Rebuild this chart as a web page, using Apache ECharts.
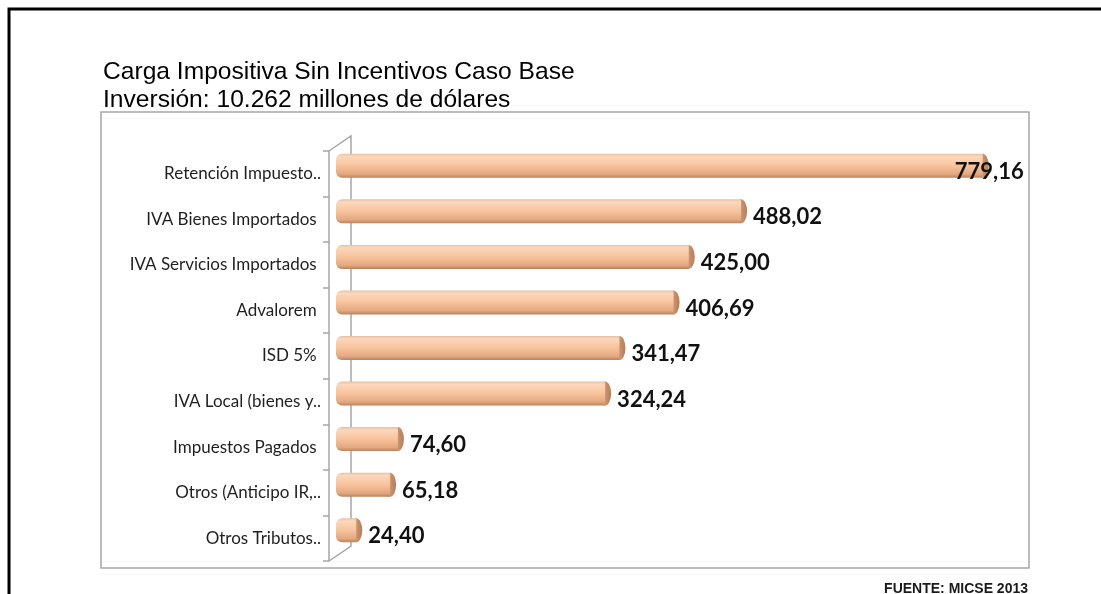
<!DOCTYPE html>
<html>
<head>
<meta charset="utf-8">
<script src="https://cdn.jsdelivr.net/npm/echarts@6/dist/echarts.min.js"></script>
<style>
  html, body { margin: 0; padding: 0; background: #fff; }
  #chart { width: 1101px; height: 594px; }
</style>
</head>
<body>
<div id="chart"></div>
<script>
// data
const categories = [
    'Retención Impuesto..',
    'IVA Bienes Importados ',
    'IVA Servicios Importados ',
    'Advalorem ',
    'ISD 5% ',
    'IVA Local (bienes y..',
    'Impuestos Pagados ',
    'Otros (Anticipo IR,..',
    'Otros Tributos..'
];
const values = [779.16, 488.02, 425.00, 406.69, 341.47, 324.24, 74.60, 65.18, 24.40];
const titleLines = ['Carga Impositiva Sin Incentivos Caso Base', 'Inversión: 10.262 millones de dólares'];
const sourceText = 'FUENTE: MICSE 2013';

const chart = echarts.init(document.getElementById('chart'));

// front plane (labels) and back plane (bars) of the fake 3D axis
const front = { left: 329, top: 151, height: 410 };
const back = { left: 336, top: 143, height: 410 };
const plotRight = 101;
const depth = { dx: 22, dy: -15 };

const barColor = new echarts.graphic.LinearGradient(0, 0, 0, 1, [
    { offset: 0, color: '#e6c0a6' },
    { offset: 0.12, color: '#fbd8bc' },
    { offset: 0.5, color: '#f7c39c' },
    { offset: 0.85, color: '#e3a87f' },
    { offset: 1, color: '#b8835f' }
]);
const capColor = new echarts.graphic.LinearGradient(0, 0, 1, 0, [
    { offset: 0, color: '#dfaa84' },
    { offset: 1, color: '#b47e5b' }
]);

// the longest bar's label sits over the end of the bar
const barData = values.map((v, i) => {
    if (i === 0) {
        return { value: v, label: { offset: [-40, 6] } };
    }
    return v;
});

let option = {
    animation: false,
    title: [
        {
            text: titleLines.join('\n'),
            left: 103,
            top: 58,
            padding: 0,
            textStyle: {
                fontFamily: 'Liberation Sans',
                fontSize: 24.6,
                fontWeight: 'normal',
                color: '#000',
                lineHeight: 28
            }
        },
        {
            text: sourceText,
            right: 73,
            top: 582,
            padding: 0,
            textStyle: {
                fontFamily: 'Liberation Sans',
                fontSize: 14,
                fontWeight: 'bold',
                color: '#1a1a1a'
            }
        }
    ],
    grid: [
        { left: front.left, top: front.top, height: front.height, right: plotRight + 7 },
        { left: back.left, top: back.top, height: back.height, right: plotRight }
    ],
    xAxis: [
        { gridIndex: 0, type: 'value', min: 0, max: 800, show: false },
        { gridIndex: 1, type: 'value', min: 0, max: 800, show: false }
    ],
    yAxis: [
        {
            gridIndex: 0,
            type: 'category',
            inverse: true,
            data: categories,
            axisLine: { lineStyle: { color: '#a6a6a6', width: 1.5 } },
            axisTick: { show: true, length: 6, lineStyle: { color: '#a6a6a6', width: 1.5 } },
            axisLabel: {
                margin: 8,
                fontFamily: 'Lato',
                fontSize: 17,
                color: '#1f1f1f'
            }
        },
        {
            gridIndex: 1,
            type: 'category',
            inverse: true,
            data: categories,
            show: false
        }
    ],
    series: [
        {
            type: 'bar',
            xAxisIndex: 1,
            yAxisIndex: 1,
            barWidth: 24,
            z: 3,
            itemStyle: {
                color: barColor,
                borderRadius: [6, 0, 0, 6]
            },
            label: {
                show: true,
                position: 'right',
                distance: 12,
                offset: [0, 6],
                fontFamily: 'Lato',
                fontWeight: 'bold',
                fontSize: 22,
                color: '#111',
                formatter: (p) => p.value.toFixed(2).replace('.', ',')
            },
            data: barData
        },
        {
            type: 'pictorialBar',
            xAxisIndex: 1,
            yAxisIndex: 1,
            symbol: 'circle',
            symbolSize: [12, 24],
            symbolPosition: 'end',
            symbolOffset: ['50%', 0],
            z: 2,
            itemStyle: { color: capColor },
            data: values
        }
    ],
    graphic: [
        {
            type: 'rect',
            z: 0,
            shape: { x: 101, y: 112, width: 928, height: 456 },
            style: { fill: 'none', stroke: '#a6a6a6', lineWidth: 1.5 }
        },
        {
            type: 'polyline',
            z: 0,
            shape: {
                points: [
                    [front.left, front.top],
                    [front.left + depth.dx, front.top + depth.dy],
                    [front.left + depth.dx, front.top + front.height + depth.dy],
                    [front.left, front.top + front.height]
                ]
            },
            style: { fill: 'none', stroke: '#a6a6a6', lineWidth: 1.5 }
        },
        {
            type: 'polyline',
            z: 0,
            shape: { points: [[9, 594], [9, 9], [1101, 9]] },
            style: { fill: 'none', stroke: '#000', lineWidth: 3 }
        }
    ]
};

chart.setOption(option);
window.addEventListener('resize', () => {
    chart.resize();
});
</script>
</body>
</html>
